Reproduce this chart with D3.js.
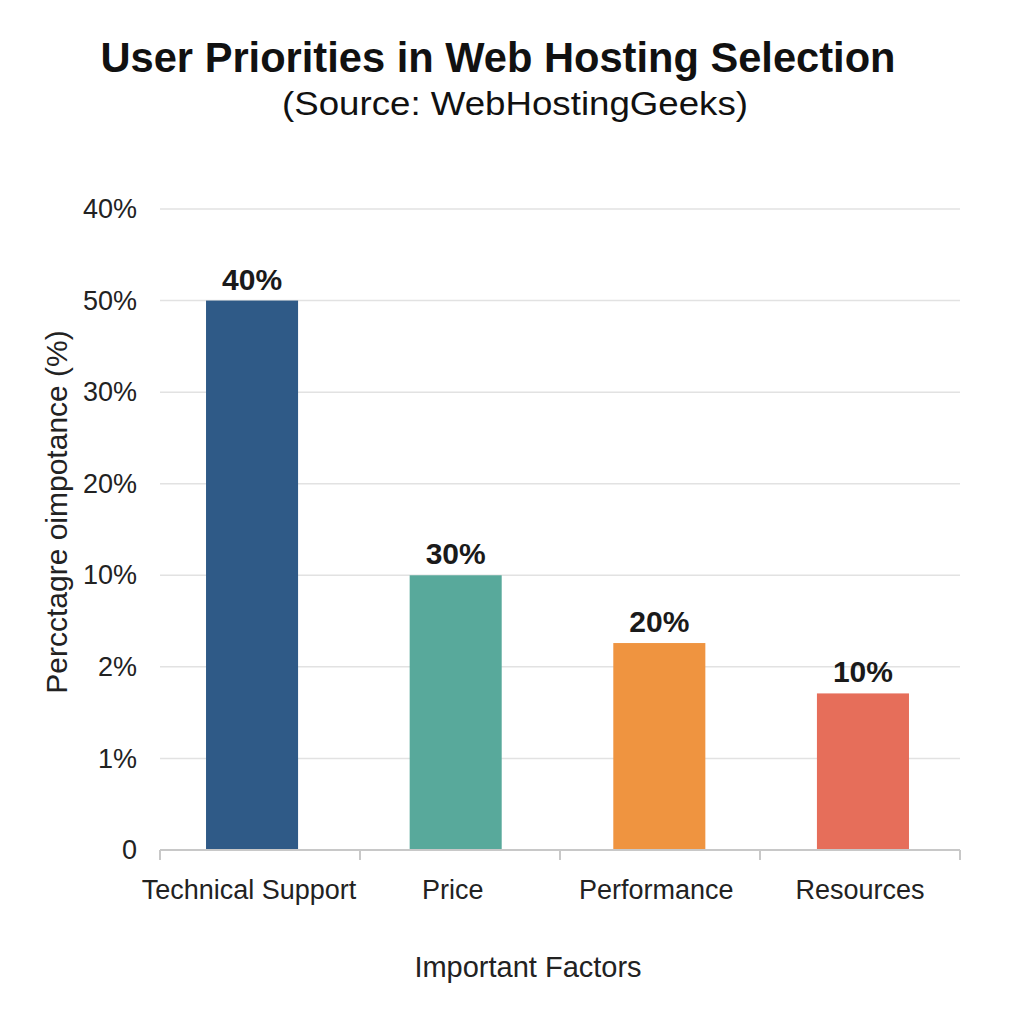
<!DOCTYPE html>
<html><head><meta charset="utf-8">
<script src="https://cdn.jsdelivr.net/npm/d3@7"></script>
<style>body{margin:0;background:#fff}svg{display:block}text{font-family:"Liberation Sans",Arial,sans-serif}</style>
</head><body><svg id="c" width="1024" height="1024"></svg>
<script>
const categories = ["Technical Support", "Price", "Performance", "Resources"];
// bar heights read as positions on the (evenly spaced) value axis, in tick steps
const values = [6, 3, 2.26, 1.71];
const barLabels = ["40%", "30%", "20%", "10%"];
const colors = ["#2f5a87", "#58a99b", "#ef9440", "#e66e5a"];
const tickLabels = ["0", "1%", "2%", "10%", "20%", "30%", "50%", "40%"];

const svg = d3.select("#c");
svg.append("rect").attr("width",1024).attr("height",1024).attr("fill","#fff");
const L = 160, R = 960, T = 209, B = 850;
const x = d3.scaleBand().domain(categories).range([L, 955]).paddingInner(0.548).paddingOuter(0.226);
const y = d3.scaleLinear().domain([0, tickLabels.length - 1]).range([B, T]);

// gridlines
svg.append("g").selectAll("line").data(d3.range(1, tickLabels.length)).join("line")
  .attr("x1", L).attr("x2", R).attr("y1", d => y(d)).attr("y2", d => y(d))
  .attr("stroke", "#e2e2e2").attr("stroke-width", 1.5);

// y axis labels
const ya = svg.append("g").attr("transform", `translate(${L},0)`)
  .call(d3.axisLeft(y).tickValues(d3.range(tickLabels.length)).tickFormat(i => tickLabels[i]).tickSize(0).tickPadding(23));
ya.select(".domain").remove();
ya.selectAll("text").attr("font-size", 27).attr("fill", "#222").attr("font-family", "Liberation Sans, Arial, sans-serif");

// bars
svg.append("g").selectAll("rect").data(categories).join("rect")
  .attr("x", d => x(d)).attr("width", x.bandwidth())
  .attr("y", (d, i) => y(values[i])).attr("height", (d, i) => B - y(values[i]))
  .attr("fill", (d, i) => colors[i]);

// bar labels
svg.append("g").selectAll("text").data(categories).join("text")
  .attr("x", d => x(d) + x.bandwidth() / 2).attr("y", (d, i) => y(values[i]) - 11)
  .attr("text-anchor", "middle").attr("font-size", 30).attr("font-weight", "bold").attr("fill", "#1a1a1a")
  .text((d, i) => barLabels[i]);

// x axis
const xEdges = d3.scaleLinear().domain([0, categories.length]).range([L, R]);
const xa = svg.append("g").attr("transform", `translate(0,${B})`);
xa.append("line").attr("x1", L).attr("x2", R).attr("stroke", "#c8c8c8").attr("stroke-width", 2);
xa.selectAll("line.t").data(d3.range(categories.length + 1)).join("line").attr("class","t")
  .attr("x1", d => xEdges(d)).attr("x2", d => xEdges(d)).attr("y1", 0).attr("y2", 10)
  .attr("stroke", "#c8c8c8").attr("stroke-width", 2);
xa.selectAll("text").data(categories).join("text")
  .attr("x", d => x(d) + x.bandwidth() / 2 - 3).attr("y", 49)
  .attr("text-anchor", "middle").attr("font-size", 27).attr("fill", "#222").text(d => d);

// titles
svg.append("text").attr("x", 498).attr("y", 72).attr("text-anchor", "middle")
  .attr("font-size", 42).attr("font-weight", "bold").attr("fill", "#111")
  .attr("textLength", 795).attr("lengthAdjust", "spacingAndGlyphs")
  .text("User Priorities in Web Hosting Selection");
svg.append("text").attr("x", 515).attr("y", 115).attr("text-anchor", "middle")
  .attr("font-size", 34).attr("fill", "#111")
  .attr("textLength", 466).attr("lengthAdjust", "spacingAndGlyphs")
  .text("(Source: WebHostingGeeks)");

svg.append("text").attr("x", 528).attr("y", 977).attr("text-anchor", "middle")
  .attr("font-size", 29).attr("fill", "#222").text("Important Factors");
svg.append("text").attr("transform", "translate(67,512) rotate(-90)").attr("text-anchor", "middle")
  .attr("font-size", 30).attr("fill", "#222").text("Percctagre oimpotance (%)");
</script></body></html>
